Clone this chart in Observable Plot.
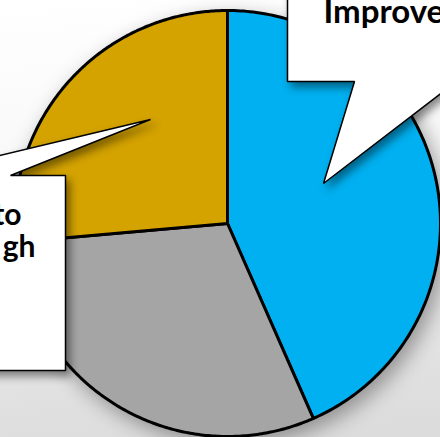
<!DOCTYPE html>
<html><head><meta charset="utf-8">
<script src="https://cdn.jsdelivr.net/npm/d3@7"></script>
<script src="https://cdn.jsdelivr.net/npm/@observablehq/plot@0.6"></script>
<style>
html,body{margin:0;padding:0;}
body{width:440px;height:437px;overflow:hidden;background:linear-gradient(175deg,#ffffff 0%,#f9f9f9 30%,#e6e6e6 70%,#dbdbdb 100%);}
#chart svg{display:block;}
.pie{filter:drop-shadow(5px 7px 10px rgba(0,0,0,0.35));}
.callout{filter:drop-shadow(4px 5px 4px rgba(0,0,0,0.45));}
</style></head>
<body><div id="chart"></div>
<script>
// Slice data (share of total, %), clockwise from 12 o'clock
const categories = ["Improve", "Other", "Left label"];
const values = [43.4, 30.2, 26.4];
const colors = ["#00b0f0", "#a5a5a5", "#d4a300"];
// Callout texts (partly outside the visible frame)
const calloutTop = ["Improve"];
const calloutLeft = ["to", "gh"];

const W = 440, H = 437;
const cx = 227, cy = 223, R = 213;

// slice outlines from the values (pixel-space polar layout)
const total = d3.sum(values);
let acc = 0;
const pts = [];
categories.forEach((c, i) => {
  const a0 = acc / total * 2 * Math.PI; acc += values[i];
  const a1 = acc / total * 2 * Math.PI;
  const n = 180;
  pts.push({category: c, x: cx, y: cy});
  for (let k = 0; k <= n; k++) {
    const a = a0 + (a1 - a0) * k / n;
    pts.push({category: c, x: cx + R * Math.sin(a), y: cy - R * Math.cos(a)});
  }
});

// callout shapes (annotation geometry, pixel space)
const shapeTop = [[287,-30],[287,81],[354,81],[323,183],[456,81],[480,81],[480,-30]]
  .map(([x,y]) => ({id:"top", x, y}));
const shapeLeft = [[-120,175],[-84,175],[150,119],[10,175],[65,175],[65,370],[-120,370]]
  .map(([x,y]) => ({id:"left", x, y}));

const plot = Plot.plot({
  width: W, height: H,
  margin: 0,
  x: {domain: [0, W], range: [0, W], axis: null},
  y: {domain: [0, H], range: [0, H], axis: null},
  color: {domain: categories, range: colors},
  style: {background: "transparent", fontFamily: "Lato, 'Open Sans', sans-serif"},
  marks: [
    Plot.line(pts, {x: "x", y: "y", z: "category", fill: "category", stroke: "black",
      strokeWidth: 3, strokeLinejoin: "round", curve: "linear-closed", className: "pie"}),
    Plot.line(shapeTop.concat(shapeLeft), {x: "x", y: "y", z: "id", fill: "white", stroke: "black",
      strokeWidth: 1.5, strokeLinejoin: "miter", curve: "linear-closed", className: "callout"}),
    Plot.text(calloutTop, {x: 323, y: 22, text: d => d, textAnchor: "start", fontSize: 33,
      fontWeight: "bold", fill: "black", lineAnchor: "bottom", dy: 0}),
    Plot.text(calloutLeft, {x: [21, 35], y: [224, 256], text: d => d, textAnchor: "end",
      fontSize: 30, fontWeight: "bold", fill: "black", lineAnchor: "bottom", dy: 0})
  ]
});
document.getElementById("chart").appendChild(plot);
</script>
</body></html>
